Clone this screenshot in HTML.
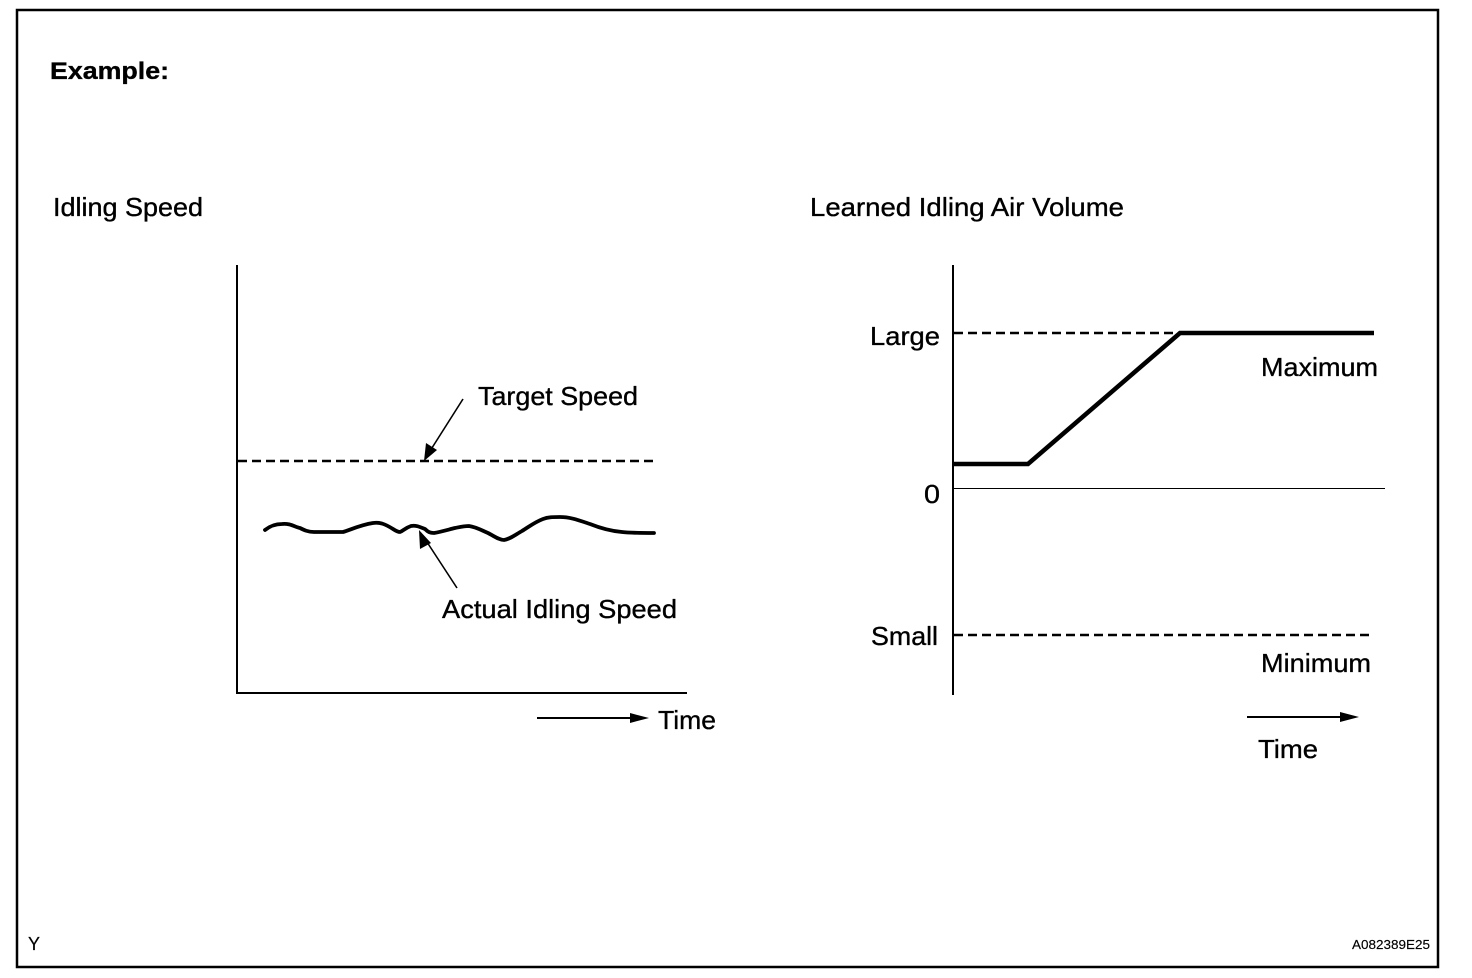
<!DOCTYPE html>
<html>
<head>
<meta charset="utf-8">
<style>
  html, body { margin: 0; padding: 0; background: #fff; }
  svg { display: block; }
  text { font-family: "Liberation Sans", Arial, sans-serif; fill: #000; stroke: #000; stroke-width: 0.35; }
</style>
</head>
<body>
<svg width="1472" height="978" viewBox="0 0 1472 978" xmlns="http://www.w3.org/2000/svg">
  <rect x="0" y="0" width="1472" height="978" fill="#fff"/>
  <!-- outer border -->
  <rect x="17" y="10" width="1421" height="957" fill="none" stroke="#000" stroke-width="2.5"/>

  <!-- headings -->
  <text x="50" y="79" font-size="24" font-weight="bold" textLength="119" lengthAdjust="spacingAndGlyphs">Example:</text>
  <text x="53" y="216" font-size="26" textLength="150" lengthAdjust="spacingAndGlyphs">Idling Speed</text>
  <text x="810" y="216" font-size="26" textLength="314" lengthAdjust="spacingAndGlyphs">Learned Idling Air Volume</text>

  <!-- LEFT CHART -->
  <line x1="237" y1="265" x2="237" y2="694" stroke="#000" stroke-width="2"/>
  <line x1="236" y1="693" x2="687" y2="693" stroke="#000" stroke-width="2"/>
  <line x1="238" y1="461" x2="656" y2="461" stroke="#000" stroke-width="2.5" stroke-dasharray="9,5"/>

  <path d="M265,530 C270,526 275,524 282,524 C290,523 295,527 300,528 C304,530 308,532 314,532 L343,532 C350,530 360,525 373,523 C380,522 385,524 393,529 C396,531 398,532 400,532 C403,531 405,528 411,526 C416,525 420,527 425,529 C428,532 430,533 434,533 C440,532 447,530 455,528 C460,527 464,526 469,526 C476,527 481,530 488,533 C494,536 499,540 504,540 C510,539 515,535 522,531 C530,526 535,522 543,519 C548,517 553,517 560,517 C570,517 578,520 590,524 C600,528 610,531 622,532 C630,533 640,533 654,533" fill="none" stroke="#000" stroke-width="3.8" stroke-linecap="round" stroke-linejoin="round"/>

  <!-- target speed annotation -->
  <line x1="463" y1="399" x2="430" y2="451" stroke="#000" stroke-width="1.6"/>
  <polygon points="424,461 426,443 437,450" fill="#000"/>
  <text x="478" y="405" font-size="26" textLength="160" lengthAdjust="spacingAndGlyphs">Target Speed</text>

  <!-- actual idling annotation -->
  <line x1="457" y1="588" x2="425" y2="539" stroke="#000" stroke-width="1.6"/>
  <polygon points="419,530 431,543 420,549" fill="#000"/>
  <text x="442" y="618" font-size="26" textLength="235" lengthAdjust="spacingAndGlyphs">Actual Idling Speed</text>

  <!-- time arrow left -->
  <line x1="537" y1="718" x2="634" y2="718" stroke="#000" stroke-width="2"/>
  <polygon points="630,713 649,718 630,723" fill="#000"/>
  <text x="658" y="729" font-size="26" textLength="58" lengthAdjust="spacingAndGlyphs">Time</text>

  <!-- RIGHT CHART -->
  <line x1="953" y1="265" x2="953" y2="695" stroke="#000" stroke-width="2"/>
  <line x1="953" y1="488.5" x2="1385" y2="488.5" stroke="#000" stroke-width="1"/>
  <line x1="954" y1="333" x2="1180" y2="333" stroke="#000" stroke-width="2.5" stroke-dasharray="9,5"/>
  <line x1="954" y1="635" x2="1374" y2="635" stroke="#000" stroke-width="2.5" stroke-dasharray="9,5"/>
  <polyline points="953,464 1028,464 1180,333 1374,333" fill="none" stroke="#000" stroke-width="4.5" stroke-linejoin="miter"/>

  <text x="870" y="345" font-size="26" textLength="70" lengthAdjust="spacingAndGlyphs">Large</text>
  <text x="924" y="503" font-size="26" textLength="16" lengthAdjust="spacingAndGlyphs">0</text>
  <text x="871" y="645" font-size="26" textLength="67" lengthAdjust="spacingAndGlyphs">Small</text>
  <text x="1261" y="376" font-size="26" textLength="117" lengthAdjust="spacingAndGlyphs">Maximum</text>
  <text x="1261" y="672" font-size="26" textLength="110" lengthAdjust="spacingAndGlyphs">Minimum</text>

  <!-- time arrow right -->
  <line x1="1247" y1="717" x2="1344" y2="717" stroke="#000" stroke-width="2"/>
  <polygon points="1340,712 1359,717 1340,722" fill="#000"/>
  <text x="1258" y="758" font-size="26" textLength="60" lengthAdjust="spacingAndGlyphs">Time</text>

  <!-- footer -->
  <text x="28" y="950" font-size="18" textLength="12" lengthAdjust="spacingAndGlyphs" style="stroke-width:0.2">Y</text>
  <text x="1352" y="949" font-size="13" textLength="78" lengthAdjust="spacingAndGlyphs" style="stroke-width:0.15">A082389E25</text>
</svg>
</body>
</html>
